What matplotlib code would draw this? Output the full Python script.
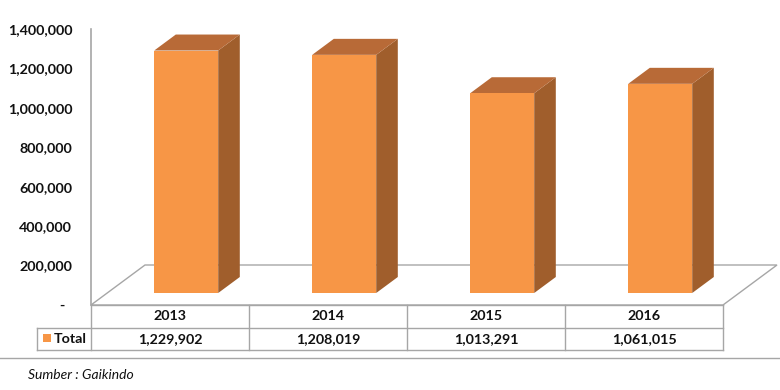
import matplotlib
matplotlib.use("Agg")
import matplotlib.pyplot as plt
from matplotlib.patches import Polygon

# ---- data ----
years = ["2013", "2014", "2015", "2016"]
totals = [1229902, 1208019, 1013291, 1061015]
series_name = "Total"
yticks = [0, 200000, 400000, 600000, 800000, 1000000, 1200000, 1400000]
source = "Sumber : Gaikindo"

# ---- style ----
FRONT = "#F79646"
TOP = "#B86A37"
SIDE = "#A05E2C"
LINE = "#A6A6A6"
TXT = "#111111"
FONT = "Lato"

W, H = 780, 390
fig = plt.figure(figsize=(W / 100, H / 100), dpi=100)
fig.patch.set_facecolor("white")

# axes geometry in pixels
ax_l, ax_r, ax_top, ax_bot = 91, 723, 29, 305
ax = fig.add_axes([ax_l / W, (H - ax_bot) / H, (ax_r - ax_l) / W, (ax_bot - ax_top) / H])
n = len(years)
ymax = yticks[-1]
ax.set_xlim(0, n)
ax.set_ylim(0, ymax)
ax.set_facecolor("none")

DX = n / (ax_r - ax_l)          # data x per pixel
DY = ymax / (ax_bot - ax_top)   # data y per pixel

# floor parallelogram
fdx, fdy = 54 * DX, 40 * DY
floor = Polygon([(0, 0), (fdx, fdy), (n + fdx, fdy), (n, 0)], closed=True,
                facecolor="white", edgecolor=LINE, lw=1.0, clip_on=False, zorder=1)
ax.add_patch(floor)

# bars
back_px = 12      # front face distance behind floor front edge
depth_px = 16     # bar depth (y pixels)
ratio = 54 / 40
half_w = 32 * DX
for i, v in enumerate(totals):
    cx = i + 0.5 + back_px * ratio * DX
    y0 = back_px * DY
    y1 = y0 + v
    x0, x1 = cx - half_w, cx + half_w
    ddx, ddy = depth_px * ratio * DX, depth_px * DY
    side = Polygon([(x1, y0), (x1, y1), (x1 + ddx, y1 + ddy), (x1 + ddx, y0 + ddy)],
                   closed=True, facecolor=SIDE, edgecolor="none", clip_on=False, zorder=3)
    top = Polygon([(x0, y1), (x0 + ddx, y1 + ddy), (x1 + ddx, y1 + ddy), (x1, y1)],
                  closed=True, facecolor=TOP, edgecolor="none", clip_on=False, zorder=3)
    front = Polygon([(x0, y0), (x0, y1), (x1, y1), (x1, y0)],
                    closed=True, facecolor=FRONT, edgecolor="none", clip_on=False, zorder=4)
    for p in (side, top, front):
        ax.add_patch(p)

# axes styling
for s in ["top", "right", "bottom"]:
    ax.spines[s].set_visible(False)
ax.spines["left"].set_color(LINE)
ax.spines["left"].set_linewidth(1.2)
ax.spines["left"].set_zorder(5)
ax.set_xticks([])
ax.set_yticks(yticks)
ax.set_yticklabels(["-  " if t == 0 else f"{t:,}" for t in yticks],
                   fontfamily=FONT, fontweight="bold", fontsize=10.3, color=TXT)
ax.tick_params(axis="y", length=0, pad=13.5)

# data table
row1 = -23 * DY
row2 = -45 * DY
legend_left = (37 - ax_l) * DX
kw = dict(color=LINE, lw=1.0, clip_on=False, zorder=2)
ax.plot([0, n], [0, 0], **kw)
ax.plot([legend_left, n], [row1, row1], **kw)
ax.plot([legend_left, n], [row2, row2], **kw)
ax.plot([legend_left, legend_left], [row1, row2], **kw)
for i in range(n + 1):
    ax.plot([i, i], [0, row2], **kw)

tk = dict(fontfamily=FONT, fontweight="bold", fontsize=10.3, color=TXT,
          ha="center", va="center", clip_on=False)
for i, (yr, v) in enumerate(zip(years, totals)):
    ax.text(i + 0.5, row1 / 2, yr, **tk)
    ax.text(i + 0.5, (row1 + row2) / 2, f"{v:,}", **tk)

# legend key in table
sq = Polygon([((43 - ax_l) * DX, (-29) * DY), ((51 - ax_l) * DX, (-29) * DY),
              ((51 - ax_l) * DX, (-37) * DY), ((43 - ax_l) * DX, (-37) * DY)],
             closed=True, facecolor=FRONT, edgecolor="none", clip_on=False)
ax.add_patch(sq)
ax.text((54 - ax_l) * DX, (row1 + row2) / 2, series_name, fontfamily=FONT,
        fontweight="bold", fontsize=10.3, color=TXT, ha="left", va="center",
        clip_on=False)

# footer line and source
ax.plot([-ax_l * DX, (W - ax_l) * DX], [-53 * DY, -53 * DY], color=LINE, lw=1.0, clip_on=False)
ax.text((28 - ax_l) * DX, -70 * DY, source, fontfamily=FONT, style="italic",
        fontsize=10, color=TXT, ha="left", va="center", clip_on=False)

fig.savefig("out.png", dpi=100)
